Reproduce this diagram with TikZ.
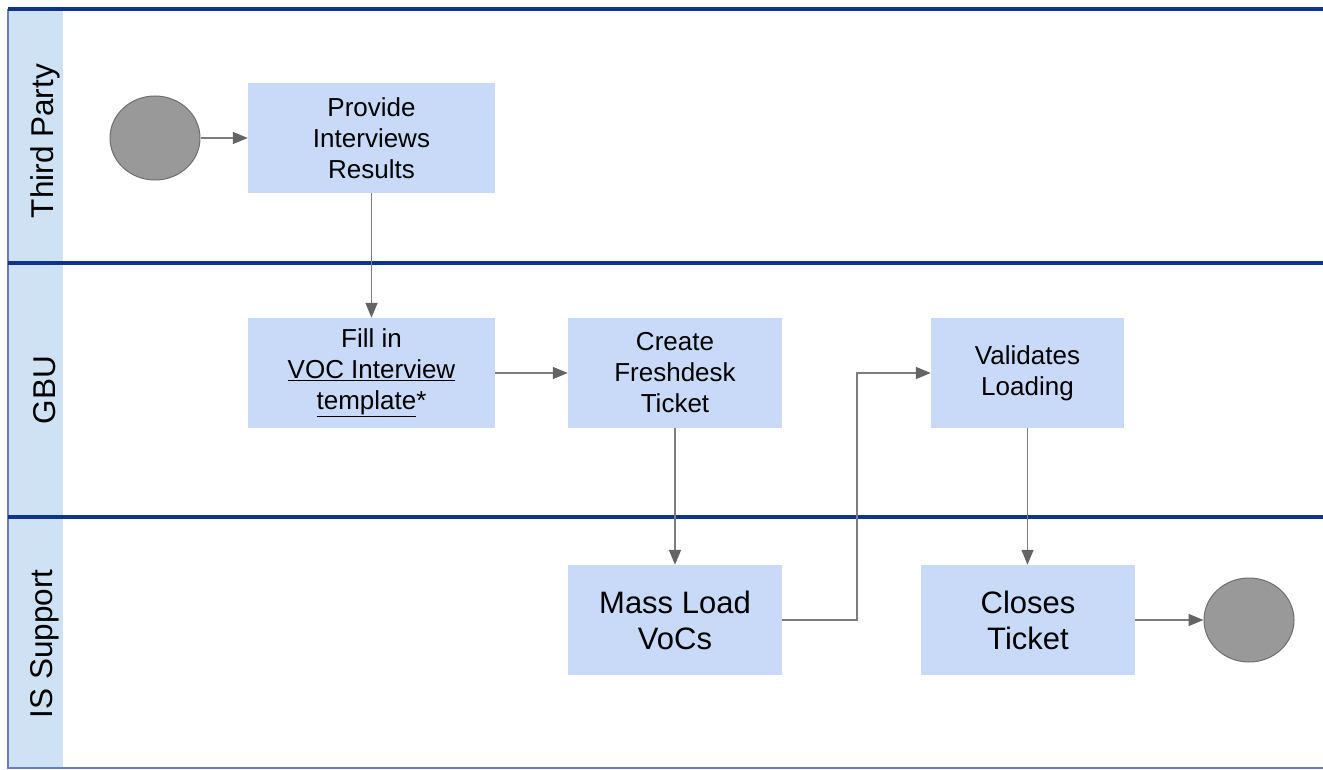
\documentclass[tikz,border=0pt]{standalone}
\usepackage{fontspec}
\setmainfont{Liberation Sans}
\usetikzlibrary{arrows.meta,shapes.geometric}
\definecolor{lanehead}{RGB}{207,226,243}
\definecolor{boxfill}{RGB}{201,218,248}
\definecolor{lanedark}{RGB}{14,52,140}
\definecolor{laneedge}{RGB}{100,128,192}
\definecolor{flow}{RGB}{125,125,125}
\definecolor{flowtip}{RGB}{100,100,100}
\definecolor{endfill}{RGB}{153,153,153}
\definecolor{enddraw}{RGB}{110,110,110}
\begin{document}
\begin{tikzpicture}[x=1pt,y=-1pt,
  stepbox/.style={fill=boxfill, draw=none, align=center, inner sep=0pt, font=\fontsize{26}{31}\selectfont},
  bigbox/.style={stepbox, font=\fontsize{31}{36}\selectfont},
  term/.style={ellipse, fill=endfill, draw=enddraw, line width=1pt, minimum width=90pt, minimum height=84pt, inner sep=0pt},
  flowline/.style={draw=flow, line width=1.5pt, -{Triangle[length=15pt,width=12pt,color=flowtip]}},
  lanelabel/.style={rotate=90, font=\fontsize{31.5}{36}\selectfont},
  divider/.style={draw=lanedark, line width=3.5pt},
  edge/.style={draw=laneedge, line width=1.5pt}
]
\useasboundingbox (0,0) rectangle (1323,770);
% lane headers
\fill[lanehead] (8,9) rectangle (63,768);
\draw[edge] (8,9) -- (8,768) -- (1323,768);
\draw[divider] (8,9) -- (1323,9);
\draw[divider] (8,263) -- (1323,263);
\draw[divider] (8,517) -- (1323,517);
\node[lanelabel] (l1) at (45,141) {Third Party};
\node[lanelabel] (l2) at (45,390) {GBU};
\node[lanelabel] (l3) at (45,644) {IS Support};
% nodes
\node[term] (start) at (155,138) {};
\node[stepbox, minimum width=247pt, minimum height=110pt] (provide) at (371.5,138) {Provide\\Interviews\\Results};
\node[stepbox, minimum width=247pt, minimum height=110pt] (fillin) at (371.5,373) {Fill in\\\underline{VOC Interview}\\\underline{template}*};
\node[stepbox, minimum width=214pt, minimum height=110pt] (create) at (675,373) {Create\\Freshdesk\\Ticket};
\node[stepbox, minimum width=193pt, minimum height=110pt] (valid) at (1027.5,373) {Validates\\Loading};
\node[bigbox, minimum width=214pt, minimum height=110pt] (mass) at (675,620) {Mass Load\\VoCs};
\node[bigbox, minimum width=214pt, minimum height=110pt] (closes) at (1028,620) {Closes\\Ticket};
\node[term] (endc) at (1249,620) {};
\coordinate (bend) at (857,620);
% connectors
\draw[flowline] (start) -- (provide);
\draw[flowline] (provide) -- (fillin);
\draw[flowline] (fillin) -- (create);
\draw[flowline] (create) -- (mass);
\draw[flowline] (mass.east) -- (bend) |- (valid.west);
\draw[flowline] (valid.south) -- (valid.south |- closes.north);
\draw[flowline] (closes) -- (endc);
\end{tikzpicture}
\end{document}
